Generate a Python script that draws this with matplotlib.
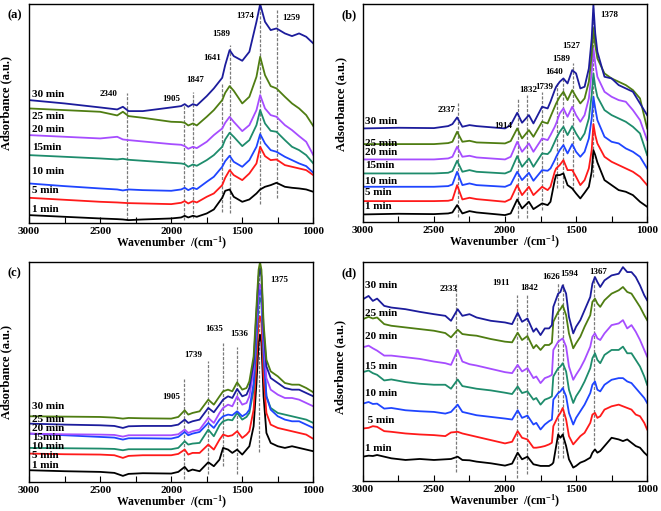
import matplotlib
matplotlib.use("Agg")
import matplotlib.pyplot as plt
from matplotlib.ticker import MultipleLocator

plt.rcParams["font.family"] = ["Liberation Serif", "DejaVu Serif"]
plt.rcParams["font.weight"] = "bold"
plt.rcParams["mathtext.fontset"] = "custom"
plt.rcParams["mathtext.rm"] = "Liberation Serif:bold"
plt.rcParams["mathtext.default"] = "rm"

# colours of the time series
BLACK = "#000000"
RED = "#ff1a1a"
BLUE = "#1f45ff"
TEAL = "#1e8c6c"
VIOLET = "#a64dff"
OLIVE = "#4f7d12"
NAVY = "#1c1c9c"

TIME_LABELS = ["1 min", "5 min", "10 min", "15min", "20 min", "25 min", "30 min"]

# ---------------- panel (a) ----------------
A_WN = [3000, 2750, 2500, 2380, 2340, 2300, 2200, 2000, 1930, 1905, 1880, 1847, 1820, 1750, 1700, 1641,
        1620, 1589, 1560, 1500, 1450, 1400, 1374, 1340, 1300, 1259, 1200, 1150, 1100, 1050, 1000]
A_1 = [23, 18, 13, 11, 10, 8, 10, 13, 16, 21, 16, 21, 18, 28, 40, 75,
       96, 100, 78, 63, 70, 88, 100, 108, 113, 120, 108, 105, 103, 100, 93]
A_5 = [75, 69, 63, 61, 60, 59, 58, 56, 60, 65, 58, 65, 61, 78, 88, 113,
       135, 158, 143, 128, 148, 178, 228, 200, 188, 190, 173, 168, 163, 158, 143]
A_10 = [118, 110, 103, 100, 97, 100, 98, 96, 100, 105, 98, 105, 101, 123, 138, 168,
        185, 201, 183, 168, 188, 228, 266, 238, 218, 213, 198, 188, 178, 170, 150]
A_15 = [203, 198, 193, 190, 192, 189, 186, 180, 178, 176, 168, 175, 171, 188, 203, 228,
        250, 270, 258, 230, 248, 293, 338, 298, 276, 273, 248, 228, 218, 203, 178]
A_20 = [263, 258, 253, 258, 250, 248, 244, 236, 234, 230, 222, 228, 224, 243, 263, 283,
        300, 318, 303, 275, 293, 338, 383, 343, 323, 318, 293, 278, 260, 243, 203]
A_25 = [343, 338, 333, 322, 333, 320, 315, 303, 302, 300, 292, 298, 292, 318, 338, 368,
        390, 410, 396, 358, 378, 438, 498, 443, 410, 403, 378, 358, 343, 323, 290]
A_30 = [368, 358, 346, 340, 348, 335, 335, 346, 350, 356, 348, 356, 352, 380, 403, 435,
        473, 518, 500, 486, 513, 603, 656, 603, 578, 583, 568, 560, 568, 558, 538]
A_LABEL_Y = [40, 98, 153, 225, 280, 318, 385]
A_PEAKS = ["2340", "1905", "1847", "1641", "1589", "1374", "1259"]
A_PEAK_X = [2439, 1998, 1833, 1711, 1650, 1481, 1157]
A_PEAK_Y = [385, 370, 428, 493, 566, 620, 613]
A_LINE_X = [2312, 1913, 1847, 1641, 1589, 1375, 1257]
A_LINE_LO = [8, 8, 13, 33, 28, 56, 75]
A_LINE_HI = [388, 353, 393, 418, 533, 646, 638]

# ---------------- panel (b) ----------------
B_WN = [3000, 2750, 2500, 2400, 2370, 2337, 2300, 2250, 2200, 2000, 1960, 1914, 1880, 1832, 1800, 1739,
        1700, 1680, 1650, 1640, 1615, 1589, 1560, 1527, 1500, 1470, 1440, 1410, 1390, 1378, 1365, 1350,
        1300, 1250, 1200, 1150, 1100, 1050, 1000]
B_1 = [22, 24, 23, 25, 28, 50, 25, 32, 28, 20, 25, 67, 40, 60, 38, 55,
       50, 60, 125, 140, 140, 145, 110, 100, 85, 70, 87, 105, 150, 215, 200, 178,
       125, 110, 95, 90, 80, 60, 45]
B_5 = [62, 62, 62, 63, 66, 110, 67, 72, 68, 60, 68, 110, 80, 105, 80, 105,
       95, 105, 150, 160, 170, 185, 155, 155, 135, 110, 125, 160, 215, 293, 260, 235,
       195, 180, 170, 160, 150, 135, 110]
B_10 = [105, 105, 105, 107, 112, 150, 110, 115, 110, 105, 112, 150, 125, 147, 123, 155,
        153, 160, 185, 195, 215, 230, 205, 233, 210, 195, 210, 250, 310, 375, 340, 305,
        255, 240, 235, 220, 210, 195, 160]
B_15 = [145, 145, 145, 147, 152, 183, 150, 155, 150, 145, 152, 197, 165, 190, 165, 205,
        203, 212, 240, 250, 270, 285, 260, 287, 265, 245, 265, 310, 380, 445, 405, 375,
        335, 320, 310, 300, 285, 265, 200]
B_20 = [187, 187, 187, 190, 195, 225, 195, 198, 193, 187, 195, 240, 210, 235, 210, 250,
        245, 260, 285, 295, 325, 340, 315, 345, 320, 300, 320, 370, 450, 520, 475, 435,
        390, 375, 365, 360, 335, 305, 245]
B_25 = [233, 233, 233, 236, 240, 270, 240, 243, 238, 235, 242, 280, 250, 275, 255, 300,
        295, 315, 345, 355, 375, 390, 365, 395, 375, 355, 370, 420, 500, 580, 530, 490,
        445, 430, 420, 410, 395, 370, 280]
B_30 = [280, 282, 281, 287, 293, 313, 285, 290, 287, 280, 290, 327, 297, 320, 295, 345,
        340, 360, 395, 405, 420, 430, 415, 455, 445, 400, 405, 460, 550, 650, 565, 510,
        435, 430, 410, 400, 390, 355, 320]
B_LABEL_Y = [47, 87, 122, 170, 207, 235, 300]
B_PEAKS = ["2337", "1914", "1832", "1739", "1640", "1589", "1527", "1378"]
B_PEAK_X = [2408, 2014, 1837, 1727, 1656, 1602, 1532, 1266]
B_PEAK_Y = [335, 287, 395, 403, 450, 487, 528, 620]
B_LINE_X = [2331, 1908, 1842, 1743, 1637, 1590, 1520, 1379]
B_LINE_LO = [15, 10, 10, 35, 100, 100, 95, 135]
B_LINE_HI = [355, 370, 380, 390, 420, 430, 475, 653]

# ---------------- panel (c) ----------------
C_WN = [3000, 2750, 2500, 2400, 2340, 2300, 2200, 2000, 1950, 1905, 1880, 1850, 1800, 1739, 1700, 1660,
        1635, 1600, 1570, 1536, 1500, 1470, 1450, 1420, 1400, 1385, 1375, 1365, 1350, 1330, 1300, 1250,
        1200, 1150, 1100, 1050, 1000]
C_1 = [35, 32, 30, 27, 18, 24, 26, 25, 30, 45, 32, 37, 32, 59, 47, 67,
       102, 97, 87, 97, 82, 97, 107, 167, 297, 417, 442, 417, 257, 147, 117, 107,
       102, 107, 102, 97, 92]
C_5 = [85, 83, 82, 80, 72, 78, 80, 80, 84, 97, 82, 87, 87, 112, 97, 127,
       142, 137, 140, 152, 132, 142, 152, 217, 357, 487, 497, 477, 317, 207, 172, 162,
       157, 152, 147, 142, 129]
C_10 = [102, 101, 100, 99, 95, 98, 98, 98, 102, 122, 112, 115, 117, 157, 137, 170,
        182, 187, 185, 207, 187, 195, 207, 277, 417, 537, 552, 537, 377, 257, 222, 207,
        202, 197, 192, 187, 177]
C_15 = [145, 140, 135, 133, 127, 131, 131, 130, 135, 150, 140, 145, 150, 177, 162, 187,
        197, 202, 200, 212, 197, 205, 217, 297, 447, 557, 577, 557, 397, 257, 217, 197,
        187, 182, 182, 172, 162]
C_20 = [145, 143, 142, 141, 136, 140, 140, 140, 143, 157, 147, 152, 157, 192, 177, 207,
        222, 232, 227, 257, 232, 237, 257, 337, 477, 577, 592, 577, 427, 312, 277, 262,
        252, 252, 247, 237, 227]
C_25 = [175, 172, 170, 168, 162, 167, 168, 168, 172, 187, 177, 182, 187, 222, 209, 232,
        247, 257, 252, 279, 257, 262, 282, 357, 507, 617, 642, 617, 457, 347, 312, 297,
        282, 277, 277, 267, 257]
C_30 = [197, 196, 195, 193, 190, 192, 191, 190, 195, 215, 202, 207, 212, 247, 232, 257,
        272, 277, 272, 299, 277, 282, 302, 377, 527, 637, 660, 637, 477, 367, 332, 317,
        297, 292, 292, 282, 269]
C_LABEL_Y = [48, 80, 107, 132, 160, 187, 225]
C_PEAKS = ["1905", "1739", "1635", "1536", "1375"]
C_PEAK_X = [1998, 1845, 1700, 1521, 1239]
C_PEAK_Y = [255, 382, 460, 445, 605]
C_LINE_X = [1908, 1744, 1634, 1540, 1380]
C_LINE_LO = [10, 25, 48, 25, 90]
C_LINE_HI = [310, 362, 418, 405, 640]

# ---------------- panel (d) ----------------
D_WN = [3000, 2960, 2930, 2900, 2850, 2800, 2700, 2600, 2500, 2420, 2380, 2333, 2300, 2250, 2200, 2100,
        2000, 1950, 1911, 1880, 1842, 1800, 1780, 1750, 1720, 1690, 1670, 1660, 1626, 1610, 1594, 1570,
        1550, 1520, 1500, 1470, 1440, 1400, 1385, 1367, 1350, 1330, 1300, 1250, 1200, 1170, 1140, 1110,
        1080, 1050, 1020, 1000]
D_1 = [73, 76, 75, 78, 73, 68, 63, 66, 63, 65, 66, 73, 63, 62, 58, 53,
       46, 52, 85, 65, 73, 50, 48, 45, 45, 45, 50, 55, 140, 130, 140, 105,
       65, 40, 45, 55, 60, 70, 85, 95, 85, 90, 105, 130, 125, 120, 125, 115,
       105, 100, 85, 77]
D_5 = [158, 160, 165, 163, 150, 148, 143, 140, 138, 135, 146, 148, 143, 138, 133, 123,
       113, 118, 150, 130, 125, 100, 100, 102, 105, 110, 115, 165, 195, 205, 220, 185,
       135, 110, 120, 135, 145, 175, 200, 205, 190, 195, 215, 225, 230, 225, 220, 215,
       200, 195, 175, 155]
D_10 = [233, 238, 232, 233, 218, 220, 213, 210, 208, 203, 208, 230, 208, 203, 198, 193,
        188, 185, 213, 190, 197, 170, 175, 155, 170, 180, 185, 245, 265, 270, 280, 255,
        205, 170, 190, 210, 230, 265, 290, 300, 275, 270, 290, 305, 310, 310, 300, 295,
        280, 265, 250, 235]
D_15 = [328, 333, 325, 320, 303, 306, 298, 293, 290, 290, 278, 306, 286, 282, 278, 273,
        266, 262, 285, 265, 270, 245, 250, 230, 245, 250, 255, 315, 340, 345, 355, 330,
        275, 235, 255, 275, 300, 340, 370, 385, 365, 355, 380, 395, 395, 405, 385, 385,
        365, 345, 315, 290]
D_20 = [403, 408, 400, 393, 378, 378, 373, 368, 360, 355, 350, 395, 360, 352, 348, 338,
        328, 325, 350, 330, 340, 310, 315, 295, 310, 315, 320, 395, 420, 425, 430, 405,
        345, 305, 320, 340, 365, 405, 435, 445, 430, 425, 445, 470, 475, 485, 460, 470,
        450, 425, 395, 375]
D_25 = [488, 495, 490, 493, 473, 468, 463, 458, 453, 446, 433, 456, 443, 440, 438, 428,
        420, 418, 447, 425, 437, 400, 410, 395, 410, 410, 417, 480, 510, 518, 530, 500,
        445, 400, 415, 435, 465, 500, 540, 550, 535, 525, 545, 565, 575, 585, 570, 565,
        545, 525, 500, 485]
D_30 = [548, 558, 543, 550, 528, 523, 518, 510, 503, 498, 483, 518, 498, 503, 493, 483,
        478, 473, 507, 480, 490, 450, 460, 440, 460, 460, 470, 525, 565, 570, 590, 565,
        495, 445, 465, 485, 515, 555, 595, 615, 600, 585, 605, 620, 625, 645, 630, 630,
        615, 590, 560, 545]
D_LABELS = ["1 min", " 5 min", "10 min", "15 min", "20 min", "25 min", "30 min"]
D_LABEL_Y = [98, 183, 263, 345, 435, 505, 590]
D_PEAKS = ["2333", "1911", "1842", "1626", "1594", "1367"]
D_PEAK_X = [2394, 2026, 1833, 1674, 1545, 1345]
D_PEAK_Y = [578, 598, 583, 616, 623, 630]
D_LINE_X = [2343, 1913, 1843, 1627, 1592, 1376]
D_LINE_LO = [26, 10, 20, 68, 68, 108]
D_LINE_HI = [593, 560, 563, 598, 598, 618]


def draw_panel(ax, wn, curves, colors, labels, label_y, peaks, peak_x, peak_y,
               line_x, line_lo, line_hi, ymax, letter, ylab_x, ylab_y):
    # dashed guide lines first, spectra on top
    for x, lo, hi in zip(line_x, line_lo, line_hi):
        ax.plot([x, x], [lo, hi], color="#7a7a7a", lw=0.9, ls=(0, (2.5, 1.2)), zorder=1)
    for ys, c in zip(curves, colors):
        ax.plot(wn, ys, color=c, lw=1.3, zorder=2)
    for lab, y in zip(labels, label_y):
        ax.text(2982, y, lab, fontsize=8, fontweight="bold", ha="left", va="center")
    for p, x, y in zip(peaks, peak_x, peak_y):
        ax.text(x, y, p, fontsize=6.5, fontweight="bold", ha="center", va="center")

    ax.set_xlim(3000, 1000)
    ax.set_ylim(0, ymax)
    ax.set_yticks([])
    ax.xaxis.set_major_locator(MultipleLocator(500))
    ax.xaxis.set_minor_locator(MultipleLocator(250))
    ax.tick_params(axis="x", which="both", direction="in", length=4, width=0.8,
                   labelsize=8, pad=3)
    for s in ax.spines.values():
        s.set_linewidth(1.0)
    ax.set_xlabel("Wavenumber  /(cm$^{-1}$)", fontsize=8.5, fontweight="bold", labelpad=-1)
    ax.set_ylabel("Adsorbance (a.u.)", fontsize=9, fontweight="bold")
    ax.yaxis.set_label_coords(ylab_x, ylab_y)
    ax.text(-0.05, 0.95, letter, transform=ax.transAxes, fontsize=9, fontweight="bold",
            ha="center", va="center")


fig = plt.figure(figsize=(6.61, 5.11), dpi=100)
ax_a = fig.add_axes([0.044, 0.564, 0.430, 0.428])
ax_b = fig.add_axes([0.549, 0.566, 0.430, 0.426])
ax_c = fig.add_axes([0.044, 0.057, 0.430, 0.430])
ax_d = fig.add_axes([0.549, 0.059, 0.430, 0.428])

std_colors = [BLACK, RED, BLUE, TEAL, VIOLET, OLIVE, NAVY]

draw_panel(ax_a, A_WN, [A_1, A_5, A_10, A_15, A_20, A_25, A_30], std_colors, TIME_LABELS,
           A_LABEL_Y, A_PEAKS, A_PEAK_X, A_PEAK_Y, A_LINE_X, A_LINE_LO, A_LINE_HI,
           656, "(a)", -0.058, 0.55)
draw_panel(ax_b, B_WN, [B_1, B_5, B_10, B_15, B_20, B_25, B_30], std_colors, TIME_LABELS,
           B_LABEL_Y, B_PEAKS, B_PEAK_X, B_PEAK_Y, B_LINE_X, B_LINE_LO, B_LINE_HI,
           653, "(b)", -0.055, 0.54)
draw_panel(ax_c, C_WN, [C_1, C_5, C_10, C_15, C_20, C_25, C_30],
           [BLACK, RED, TEAL, BLUE, VIOLET, NAVY, OLIVE], TIME_LABELS,
           C_LABEL_Y, C_PEAKS, C_PEAK_X, C_PEAK_Y, C_LINE_X, C_LINE_LO, C_LINE_HI,
           660, "(c)", -0.058, 0.5)
draw_panel(ax_d, D_WN, [D_1, D_5, D_10, D_15, D_20, D_25, D_30], std_colors, D_LABELS,
           D_LABEL_Y, D_PEAKS, D_PEAK_X, D_PEAK_Y, D_LINE_X, D_LINE_LO, D_LINE_HI,
           660, "(d)", -0.06, 0.52)

fig.savefig("out.png", dpi=100, facecolor="white")
